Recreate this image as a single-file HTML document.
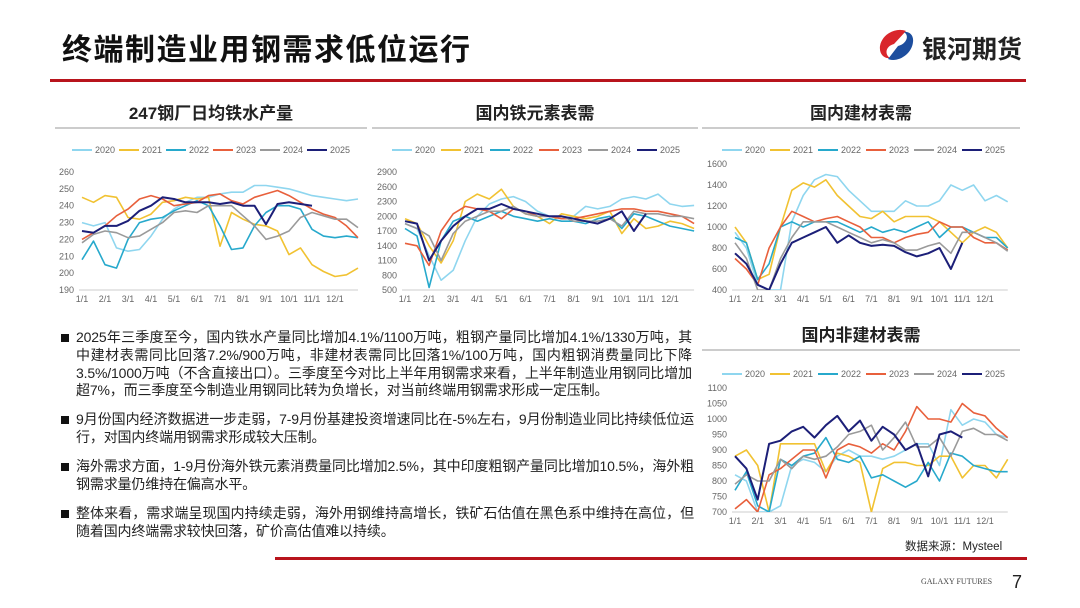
<!DOCTYPE html>
<html><head><meta charset="utf-8">
<style>
body{margin:0;width:1080px;height:608px;background:#fff;position:relative;overflow:hidden;font-family:"Liberation Sans","Noto Sans CJK SC",sans-serif;}
.abs{position:absolute;}
.title{left:62px;top:25px;font-size:30px;font-weight:bold;color:#111;letter-spacing:1.5px;}
.ptitle{font-size:17px;font-weight:bold;color:#222;text-align:center;border-bottom:2px solid #ccc;height:24px;line-height:22px;}
.para{left:62px;width:632px;font-size:14px;line-height:17.8px;color:#222;}
.para p{margin:0;padding-left:14px;position:relative;text-align:justify;letter-spacing:-0.15px;}
.para p:before{content:"";position:absolute;left:-1px;top:5px;width:8px;height:8px;background:#111;}
</style></head><body>
<div class="abs title">终端制造业用钢需求低位运行</div>
<div class="abs" style="left:876px;top:28px;">
<svg width="40" height="34" viewBox="0 0 40 34"><path d="M30 3 C20 -1 6 6 4 18 C3 26 8 31 14 30 C8 26 10 18 18 16 Z" fill="#d9262c"/><path d="M12 31 C22 35 36 26 37 14 C38 7 33 3 28 4 C34 8 30 16 22 18 Z" fill="#1d4e9e"/></svg></div>
<div class="abs" style="left:922px;top:30px;font-size:25px;color:#222;font-weight:bold;">银河期货</div>
<div class="abs" style="left:50px;top:79px;width:976px;height:3px;background:#b8141c;"></div>

<div class="abs ptitle" style="left:55px;top:103px;width:312px;">247钢厂日均铁水产量</div>
<div class="abs ptitle" style="left:372px;top:103px;width:326px;">国内铁元素表需</div>
<div class="abs ptitle" style="left:702px;top:103px;width:318px;">国内建材表需</div>
<div class="abs ptitle" style="left:702px;top:325px;width:318px;">国内非建材表需</div>

<svg class="abs" id="charts" style="left:0;top:0" width="1080" height="608"></svg>

<div class="abs para" style="top:329px;width:630px;"><p>2025年三季度至今，国内铁水产量同比增加4.1%/1100万吨，粗钢产量同比增加4.1%/1330万吨，其中建材表需同比回落7.2%/900万吨，非建材表需同比回落1%/100万吨，国内粗钢消费量同比下降3.5%/1000万吨（不含直接出口）。三季度至今对比上半年用钢需求来看，上半年制造业用钢同比增加超7%，而三季度至今制造业用钢同比转为负增长，对当前终端用钢需求形成一定压制。</p></div>
<div class="abs para" style="top:411px;"><p>9月份国内经济数据进一步走弱，7-9月份基建投资增速同比在-5%左右，9月份制造业同比持续低位运行，对国内终端用钢需求形成较大压制。</p></div>
<div class="abs para" style="top:458px;"><p>海外需求方面，1-9月份海外铁元素消费量同比增加2.5%，其中印度粗钢产量同比增加10.5%，海外粗钢需求量仍维持在偏高水平。</p></div>
<div class="abs para" style="top:505px;"><p>整体来看，需求端呈现国内持续走弱，海外用钢维持高增长，铁矿石估值在黑色系中维持在高位，但随着国内终端需求较快回落，矿价高估值难以持续。</p></div>

<div class="abs" style="left:905px;top:538px;font-size:11.5px;color:#222;">数据来源：Mysteel</div>
<div class="abs" style="left:275px;top:557px;width:752px;height:3px;background:#b8141c;"></div>
<div class="abs" style="left:921px;top:577px;font-size:8px;color:#444;font-family:'Liberation Serif',serif;">GALAXY FUTURES</div>
<div class="abs" style="left:1012px;top:572px;font-size:18px;color:#222;">7</div>

<script>
const years=["2020","2021","2022","2023","2024","2025"];
const colors=["#8fd6ef","#f1c232","#27a9cc","#e8603c","#9a9a9a","#1c1f78"];
const months=["1/1","2/1","3/1","4/1","5/1","6/1","7/1","8/1","9/1","10/1","11/1","12/1"];
const c1Ticks=[190,200,210,220,230,240,250,260];
const c1_2020=[230,228,230,215,213,214,222,232,238,242,245,245,247,248,248,252,252,251,250,248,246,245,244,243,244];
const c1_2021=[245,242,246,245,233,232,235,242,243,245,244,245,216,236,232,229,228,225,211,215,205,201,198,199,203];
const c1_2022=[208,219,205,203,220,230,232,233,237,240,243,240,228,214,215,228,236,240,240,238,226,222,221,222,221];
const c1_2023=[220,224,228,234,238,244,246,244,240,241,242,246,247,243,241,245,247,249,246,242,238,235,233,228,221];
const c1_2024=[218,223,225,224,221,222,226,230,236,237,236,240,240,240,234,228,220,222,225,233,236,234,232,232,227];
const c1_2025=[225,224,228,228,231,237,240,245,244,242,242,242,241,242,240,240,229,241,242,241,240];
const c2Ticks=[500,800,1100,1400,1700,2000,2300,2600,2900];
const c2_2020=[1850,1750,1200,700,900,1500,2000,2250,2350,2400,2300,2100,2000,1950,2000,2200,2150,2200,2350,2400,2350,2450,2250,2200,2220];
const c2_2021=[1950,1850,1400,1050,1500,2300,2450,2350,2550,2200,2050,2000,1850,2050,2000,1950,2000,2100,1650,1950,1750,1800,1900,1850,1750];
const c2_2022=[1750,1600,550,1500,1900,2000,1900,2000,2100,2000,1950,1900,1950,1900,1900,1850,1950,2000,1750,2050,2000,1900,1800,1750,1700];
const c2_2023=[1450,1400,1000,1700,2050,2200,2150,2100,1950,2150,2100,2000,2000,1950,1950,2000,2050,2100,2150,2150,2100,2100,2050,2000,1850];
const c2_2024=[1850,1750,1600,1100,1650,1900,2000,2100,2100,2200,2050,2000,2000,2000,1900,1900,1900,1950,1800,2100,2050,2050,2000,2000,1950];
const c2_2025=[1900,1850,1100,1500,1800,2000,2150,2150,2250,2150,2100,2050,2000,2000,1950,1900,1850,1950,2100,1700,2050];
const c3Ticks=[400,600,800,1000,1200,1400,1600];
const c3_2020=[950,800,450,400,350,1050,1300,1450,1500,1480,1350,1250,1150,1150,1150,1250,1200,1200,1250,1400,1350,1400,1250,1300,1240];
const c3_2021=[1000,850,500,550,1000,1350,1420,1380,1450,1300,1200,1100,1080,1150,1050,1100,1100,1100,1050,950,850,950,1000,950,800];
const c3_2022=[900,850,500,650,1000,1050,1000,1050,1050,1050,1000,950,1000,950,980,950,1000,1050,900,1000,1000,950,900,900,800];
const c3_2023=[700,600,450,800,1000,1150,1100,1050,1080,1100,1050,1000,900,900,850,900,930,950,1050,1000,1000,900,850,850,780];
const c3_2024=[850,700,400,400,700,900,1050,1050,1050,1000,950,900,850,880,850,780,780,820,850,750,950,950,900,850,770];
const c3_2025=[750,650,450,400,650,850,900,950,1000,850,920,850,820,830,820,760,720,750,800,600,850];
const c4Ticks=[700,750,800,850,900,950,1000,1050,1100];
const c4_2020=[820,800,650,650,720,850,870,860,830,880,900,880,880,870,880,900,920,920,850,1030,980,1000,990,950,940];
const c4_2021=[880,900,850,650,920,920,920,920,830,890,880,860,700,840,860,860,850,850,880,880,810,850,850,810,870];
const c4_2022=[770,830,720,650,870,850,880,890,940,870,860,880,810,820,800,780,800,860,800,890,880,850,840,830,830];
const c4_2023=[710,740,660,820,840,870,900,900,810,900,920,910,890,920,900,960,1040,1000,1000,990,1050,1020,1010,970,940];
const c4_2024=[790,820,800,800,870,840,880,870,880,910,950,960,980,900,940,990,910,910,940,880,960,970,950,950,930];
const c4_2025=[880,840,740,920,930,960,975,940,980,1010,960,995,930,975,950,900,920,815,950,960,940];

const NS="http://www.w3.org/2000/svg";
const svg=document.getElementById('charts');
function mk(tag,attrs,parent){const e=document.createElementNS(NS,tag);for(const k in attrs)e.setAttribute(k,attrs[k]);(parent||svg).appendChild(e);return e;}
function chart(id,cfg,series,ticks){
  const g=mk('g',{});
  
  
  const lo=ticks[0],hi=ticks[ticks.length-1];
  const mw=(cfg.x12-cfg.x1)/11;
  const xs=i=>cfg.x1+i*mw/2;
  const ys=v=>cfg.yb+(Math.max(lo,Math.min(hi,v))-lo)/(hi-lo)*(cfg.yt-cfg.yb);
  years.forEach((y,k)=>{
    const lx=cfg.lx+k*cfg.ls;
    const ln=mk('line',{x1:lx,x2:lx+20,y1:cfg.ly,y2:cfg.ly,stroke:colors[k],'stroke-width':2},g);
    
    
    const t=mk('text',{x:lx+23,y:cfg.ly+3,'font-size':9,fill:'#666'},g);t.textContent=y;
    
    
  });
  ticks.forEach(v=>{const t=mk('text',{x:cfg.x1-8,y:ys(v)+3,'font-size':9,fill:'#666','text-anchor':'end'},g);t.textContent=v;
    
    });
  const ax=mk('line',{x1:cfg.x1-3,x2:cfg.x1+mw*12,y1:cfg.yb,y2:cfg.yb,stroke:'#ccc','stroke-width':1},g);
  
  
  months.forEach((m,i)=>{const t=mk('text',{x:cfg.x1+i*mw,y:cfg.yb+12,'font-size':9,fill:'#666','text-anchor':'middle'},g);t.textContent=m;
    
    });
  const cp='cp'+id;const d=mk('clipPath',{id:cp},g);mk('rect',{x:cfg.x1-2,y:cfg.yt-2,width:mw*12+4,height:cfg.yb-cfg.yt+2},d);
  series.forEach((s,k)=>{
    const p=mk('polyline',{points:s.map((v,i)=>xs(i).toFixed(1)+','+ys(v).toFixed(1)).join(' '),fill:'none',stroke:colors[k],'stroke-width':k==5?2:1.6,'stroke-linejoin':'round','clip-path':'url(#'+cp+')'},g);
    
    
  });
}
chart('chart-hot-metal',{x1:82,x12:335,yt:172,yb:290,lx:72,ly:150,ls:47},[c1_2020,c1_2021,c1_2022,c1_2023,c1_2024,c1_2025],c1Ticks);
chart('chart-iron-demand',{x1:405,x12:670,yt:172,yb:290,lx:392,ly:150,ls:49},[c2_2020,c2_2021,c2_2022,c2_2023,c2_2024,c2_2025],c2Ticks);
chart('chart-construction',{x1:735,x12:985,yt:164,yb:290,lx:722,ly:150,ls:48},[c3_2020,c3_2021,c3_2022,c3_2023,c3_2024,c3_2025],c3Ticks);
chart('chart-non-construction',{x1:735,x12:985,yt:388,yb:512,lx:722,ly:374,ls:48},[c4_2020,c4_2021,c4_2022,c4_2023,c4_2024,c4_2025],c4Ticks);
</script>
</body></html>
